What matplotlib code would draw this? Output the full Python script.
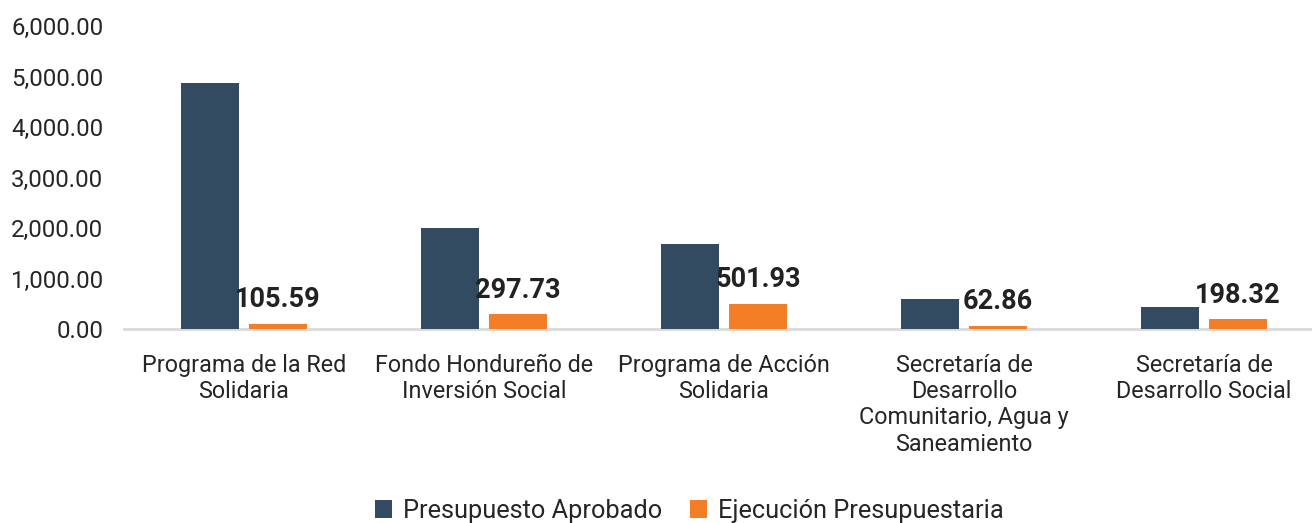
import matplotlib
matplotlib.use("Agg")
import matplotlib.pyplot as plt
import numpy as np
from matplotlib.ticker import FuncFormatter

categories = ["Programa de la Red\nSolidaria",
              "Fondo Hondureño de\nInversión Social",
              "Programa de Acción\nSolidaria",
              "Secretaría de\nDesarrollo\nComunitario, Agua y\nSaneamiento",
              "Secretaría de\nDesarrollo Social"]
aprobado = [4880, 2008, 1690, 596, 437]
ejecucion = [105.59, 297.73, 501.93, 62.86, 198.32]
series_names = ["Presupuesto Aprobado", "Ejecución Presupuestaria"]
yticks = [0, 1000, 2000, 3000, 4000, 5000, 6000]

plt.rcParams['font.family'] = ['Roboto', 'DejaVu Sans']
dark = '#324B60'
orange = '#F47E25'
txt = '#262626'

fig = plt.figure(figsize=(13.12, 5.23), dpi=100)
ax = fig.add_axes([124/1312, (523-329)/523, 1200/1312, (329-26)/523])

x = np.arange(len(categories))
w = 0.242
off = 0.142
b1 = ax.bar(x - off, aprobado, w, color=dark, label=series_names[0], zorder=2)
b2 = ax.bar(x + off, ejecucion, w, color=orange, label=series_names[1], zorder=2)

for xi, v in zip(x, ejecucion):
    ax.annotate(f"{v:,.2f}", (xi + off, v), xytext=(0, 7.5), textcoords='offset points',
                ha='center', va='bottom', fontsize=19.5, fontweight='bold', color='#222222')

ax.set_xlim(-0.5, 4.5)
ax.set_ylim(0, 6000)
ax.set_yticks(yticks)
ax.yaxis.set_major_formatter(FuncFormatter(lambda v, p: f"{v:,.2f}"))
ax.set_xticks(x)
ax.set_xticklabels(categories, linespacing=1.18)
ax.tick_params(axis='x', length=0, pad=18, labelsize=16.8, labelcolor=txt)
ax.tick_params(axis='y', length=0, pad=15, labelsize=17.3, labelcolor=txt)

for s in ['top', 'right', 'left']:
    ax.spines[s].set_visible(False)
ax.spines['bottom'].set_color('#D9D9D9')
ax.spines['bottom'].set_linewidth(2)
ax.spines['bottom'].set_zorder(1)

fig.legend(handles=[b1, b2], loc='center', bbox_to_anchor=(689/1312, 1 - 511/523),
           ncol=2, frameon=False, fontsize=18.3, handlelength=0.7, handleheight=0.7,
           handletextpad=0.4, columnspacing=1.1, labelcolor=txt)

fig.savefig("out.png", dpi=100)
